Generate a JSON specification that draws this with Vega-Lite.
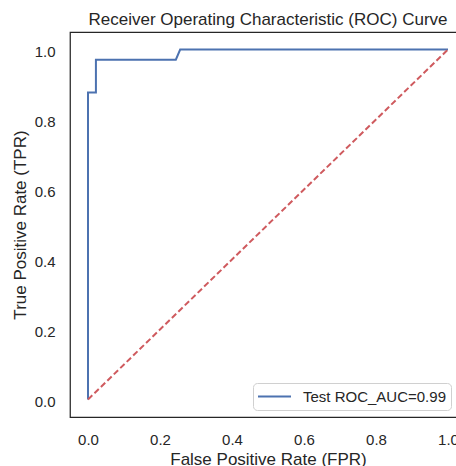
{
  "$schema": "https://vega.github.io/schema/vega-lite/v6.json",
  "autosize": {"type": "none"},
  "padding": {"left": 70, "top": 32, "right": -10, "bottom": 49},
  "width": 396,
  "height": 385,
  "background": "white",
  "title": {
    "text": "Receiver Operating Characteristic (ROC) Curve",
    "font": "Liberation Sans",
    "fontSize": 17,
    "fontWeight": "normal",
    "color": "#262626",
    "anchor": "middle",
    "offset": 3
  },
  "config": {
    "view": {"stroke": "#262626", "strokeWidth": 1.25},
    "font": "Liberation Sans",
    "axis": {
      "domain": false,
      "ticks": false,
      "tickSize": 0,
      "grid": false,
      "labelFont": "Liberation Sans",
      "labelFontSize": 15,
      "labelColor": "#262626",
      "labelPadding": 15,
      "titleFont": "Liberation Sans",
      "titleFontSize": 17,
      "titleFontWeight": "normal",
      "titleColor": "#262626"
    },
    "legend": {
      "labelFont": "Liberation Sans",
      "labelFontSize": 15,
      "labelColor": "#262626"
    }
  },
  "datasets": {
    "roc": [
      {"fpr": 0.0, "tpr": 0.0, "label": "Test ROC_AUC=0.99"},
      {"fpr": 0.0, "tpr": 0.877, "label": "Test ROC_AUC=0.99"},
      {"fpr": 0.022, "tpr": 0.877, "label": "Test ROC_AUC=0.99"},
      {"fpr": 0.022, "tpr": 0.971, "label": "Test ROC_AUC=0.99"},
      {"fpr": 0.244, "tpr": 0.971, "label": "Test ROC_AUC=0.99"},
      {"fpr": 0.256, "tpr": 1.0, "label": "Test ROC_AUC=0.99"},
      {"fpr": 1.0, "tpr": 1.0, "label": "Test ROC_AUC=0.99"}
    ],
    "diag": [
      {"fpr": 0.0, "tpr": 0.0},
      {"fpr": 1.0, "tpr": 1.0}
    ]
  },
  "layer": [
    {
      "data": {"name": "roc"},
      "mark": {"type": "line", "strokeWidth": 2, "clip": true},
      "encoding": {
        "x": {
          "field": "fpr",
          "type": "quantitative",
          "scale": {"domain": [-0.05, 1.05], "nice": false, "zero": false},
          "axis": {"values": [0, 0.2, 0.4, 0.6, 0.8, 1.0], "format": ".1f", "title": "False Positive Rate (FPR)", "titlePadding": 4}
        },
        "y": {
          "field": "tpr",
          "type": "quantitative",
          "scale": {"domain": [-0.05, 1.05], "nice": false, "zero": false},
          "axis": {"values": [0, 0.2, 0.4, 0.6, 0.8, 1.0], "format": ".1f", "title": "True Positive Rate (TPR)", "titlePadding": 5, "labelOffset": 2}
        },
        "order": {"field": "fpr"},
        "color": {
          "field": "label",
          "type": "nominal",
          "scale": {"range": ["#4C72B0"]},
          "legend": {
            "title": null,
            "orient": "none",
            "legendX": 183,
            "legendY": 351,
            "padding": 5,
            "strokeColor": "#d0d0d0",
            "fillColor": "white",
            "cornerRadius": 4,
            "symbolType": "M-2.2,0H2.2",
            "symbolSize": 225,
            "symbolStrokeWidth": 2,
            "symbolOffset": 8,
            "labelOffset": 20
          }
        }
      }
    },
    {
      "data": {"name": "diag"},
      "mark": {"type": "line", "color": "#CF5A5E", "strokeWidth": 2, "strokeDash": [6, 3]},
      "encoding": {
        "x": {"field": "fpr", "type": "quantitative"},
        "y": {"field": "tpr", "type": "quantitative"}
      }
    }
  ]
}
